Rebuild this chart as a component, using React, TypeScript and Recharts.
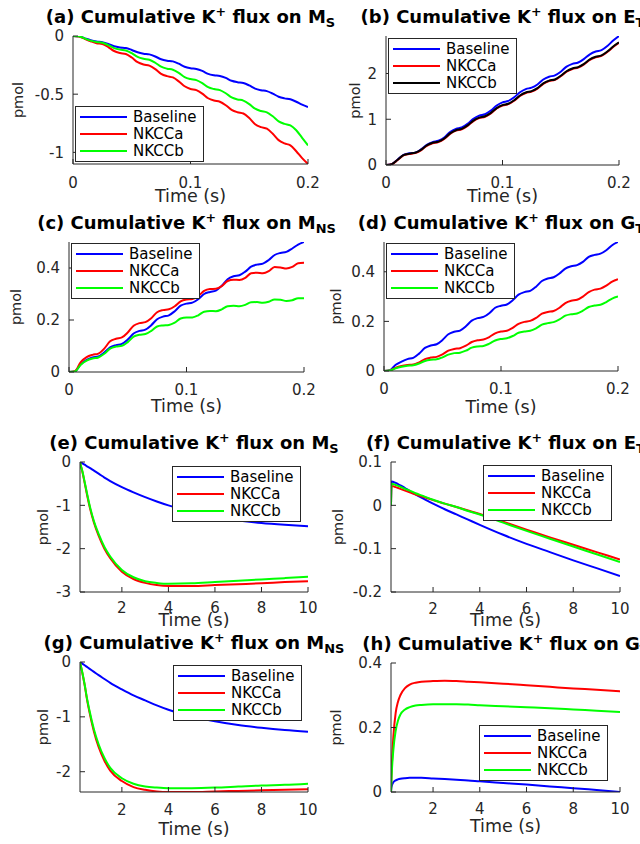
import React from 'react';
import { LineChart, Line, XAxis, YAxis, Legend } from 'recharts';

const FONT = '"DejaVu Sans", "Liberation Sans", sans-serif';
const INK = '#262626';

// time grids
const timeShort = [
  0, 0.005, 0.01, 0.015, 0.02, 0.025, 0.03, 0.035, 0.04, 0.045,
  0.05, 0.055, 0.06, 0.065, 0.07, 0.075, 0.08, 0.085, 0.09, 0.095,
  0.1, 0.105, 0.11, 0.115, 0.12, 0.125, 0.13, 0.135, 0.14, 0.145,
  0.15, 0.155, 0.16, 0.165, 0.17, 0.175, 0.18, 0.185, 0.19, 0.195, 0.2,
];
const timeLong = [0.2, 0.22, 0.3, 0.4, 0.5, 0.6, 0.8, 1, 1.25, 1.5, 2, 2.5, 3, 3.5, 4, 5, 6, 7, 8, 9, 10];

// (a) M_S, short run
const aBaseline = [
  0, -0.003, -0.02, -0.036, -0.047, -0.053, -0.068, -0.088, -0.098, -0.103,
  -0.12, -0.14, -0.152, -0.158, -0.176, -0.2, -0.212, -0.218, -0.238, -0.264,
  -0.277, -0.283, -0.3, -0.325, -0.337, -0.343, -0.36, -0.385, -0.397, -0.404,
  -0.425, -0.452, -0.466, -0.474, -0.495, -0.522, -0.536, -0.544, -0.565, -0.59, -0.61,
];
const aNKCCa = [
  0, -0.004, -0.025, -0.045, -0.062, -0.069, -0.095, -0.129, -0.146, -0.155,
  -0.185, -0.225, -0.245, -0.255, -0.285, -0.325, -0.345, -0.356, -0.39, -0.432,
  -0.455, -0.465, -0.495, -0.535, -0.555, -0.565, -0.595, -0.635, -0.655, -0.666,
  -0.705, -0.758, -0.783, -0.797, -0.84, -0.895, -0.923, -0.94, -0.99, -1.05, -1.1,
];
const aNKCCb = [
  0, -0.003, -0.022, -0.04, -0.052, -0.058, -0.078, -0.104, -0.117, -0.124,
  -0.148, -0.18, -0.196, -0.204, -0.23, -0.264, -0.281, -0.29, -0.317, -0.353,
  -0.37, -0.379, -0.405, -0.44, -0.456, -0.465, -0.492, -0.528, -0.545, -0.555,
  -0.585, -0.625, -0.645, -0.656, -0.69, -0.733, -0.755, -0.768, -0.81, -0.875, -0.94,
];

// (b) E_T, short run
const bBaseline = [
  0, 0.02, 0.12, 0.22, 0.255, 0.27, 0.34, 0.44, 0.5, 0.53,
  0.6, 0.72, 0.79, 0.82, 0.9, 1.01, 1.08, 1.11, 1.19, 1.3,
  1.37, 1.4, 1.48, 1.59, 1.66, 1.69, 1.76, 1.87, 1.93, 1.96,
  2.04, 2.15, 2.21, 2.24, 2.32, 2.42, 2.48, 2.51, 2.6, 2.72, 2.82,
];
const bNKCCa = [
  0, 0.02, 0.11, 0.21, 0.24, 0.26, 0.32, 0.42, 0.475, 0.5,
  0.57, 0.68, 0.75, 0.78, 0.855, 0.96, 1.025, 1.055, 1.13, 1.235,
  1.3, 1.33, 1.405, 1.51, 1.575, 1.605, 1.67, 1.775, 1.835, 1.86,
  1.94, 2.04, 2.1, 2.13, 2.2, 2.3, 2.355, 2.385, 2.47, 2.58, 2.67,
];
const bNKCCb = [
  0, 0.02, 0.115, 0.215, 0.248, 0.268, 0.33, 0.43, 0.485, 0.51,
  0.58, 0.69, 0.76, 0.79, 0.865, 0.97, 1.035, 1.065, 1.14, 1.245,
  1.31, 1.34, 1.415, 1.52, 1.585, 1.615, 1.68, 1.785, 1.845, 1.87,
  1.95, 2.05, 2.11, 2.14, 2.21, 2.31, 2.365, 2.395, 2.48, 2.59, 2.68,
];

// (c) M_NS, short run
const cBaseline = [
  0, 0.002, 0.03, 0.047, 0.056, 0.06, 0.075, 0.095, 0.103, 0.108,
  0.125, 0.148, 0.158, 0.163, 0.18, 0.203, 0.213, 0.218, 0.234, 0.255,
  0.263, 0.267, 0.28, 0.3, 0.308, 0.313, 0.332, 0.357, 0.368, 0.372,
  0.386, 0.405, 0.413, 0.417, 0.431, 0.45, 0.458, 0.462, 0.475, 0.49, 0.5,
];
const cNKCCa = [
  0, 0.003, 0.038, 0.057, 0.066, 0.071, 0.09, 0.118, 0.128, 0.133,
  0.152, 0.178, 0.188, 0.192, 0.207, 0.23, 0.238, 0.241, 0.253, 0.272,
  0.279, 0.281, 0.292, 0.312, 0.319, 0.32, 0.33, 0.35, 0.355, 0.354,
  0.362, 0.38, 0.382, 0.38, 0.388, 0.404, 0.402, 0.398, 0.404, 0.418, 0.42,
];
const cNKCCb = [
  0, 0.002, 0.028, 0.044, 0.052, 0.056, 0.07, 0.09, 0.098, 0.101,
  0.115, 0.136, 0.143, 0.146, 0.158, 0.175, 0.179, 0.181, 0.19, 0.206,
  0.21, 0.21, 0.218, 0.232, 0.235, 0.234, 0.241, 0.253, 0.255, 0.253,
  0.258, 0.268, 0.269, 0.266, 0.27, 0.279, 0.278, 0.273, 0.276, 0.284, 0.284,
];

// (d) G_T, short run
const dBaseline = [
  0, 0.003, 0.025, 0.038, 0.048, 0.053, 0.07, 0.093, 0.103, 0.108,
  0.125, 0.148, 0.158, 0.163, 0.18, 0.203, 0.213, 0.218, 0.233, 0.255,
  0.263, 0.268, 0.285, 0.308, 0.318, 0.323, 0.34, 0.363, 0.373, 0.378,
  0.393, 0.413, 0.422, 0.427, 0.44, 0.46, 0.468, 0.473, 0.487, 0.507, 0.52,
];
const dNKCCa = [
  0, 0.002, 0.013, 0.02, 0.024, 0.026, 0.035, 0.048, 0.054, 0.057,
  0.067, 0.082, 0.089, 0.092, 0.102, 0.117, 0.124, 0.127, 0.137, 0.152,
  0.159, 0.162, 0.174, 0.19, 0.198, 0.202, 0.214, 0.231, 0.238, 0.242,
  0.255, 0.274, 0.283, 0.287, 0.3, 0.318, 0.328, 0.332, 0.344, 0.36, 0.37,
];
const dNKCCb = [
  0, 0.002, 0.011, 0.017, 0.021, 0.023, 0.03, 0.04, 0.045, 0.047,
  0.055, 0.066, 0.072, 0.074, 0.082, 0.094, 0.099, 0.101, 0.11, 0.123,
  0.129, 0.132, 0.141, 0.154, 0.159, 0.162, 0.172, 0.187, 0.193, 0.197,
  0.208, 0.223, 0.229, 0.232, 0.243, 0.258, 0.264, 0.267, 0.278, 0.292, 0.3,
];

// (e)-(h) long run
const eBaseline = [0, -0.005, -0.03, -0.06, -0.1, -0.13, -0.2, -0.27, -0.36, -0.44, -0.58, -0.7, -0.81, -0.91, -1.0, -1.15, -1.27, -1.35, -1.41, -1.45, -1.48];
const eNKCCa = [0, -0.05, -0.22, -0.48, -0.75, -1.0, -1.4, -1.7, -2.0, -2.22, -2.53, -2.7, -2.79, -2.84, -2.86, -2.86, -2.84, -2.82, -2.8, -2.77, -2.75];
const eNKCCb = [0, -0.05, -0.21, -0.46, -0.72, -0.97, -1.37, -1.66, -1.96, -2.18, -2.49, -2.66, -2.75, -2.79, -2.81, -2.8, -2.77, -2.74, -2.71, -2.68, -2.65];

const fBaseline = [0, 0.055, 0.054, 0.052, 0.049, 0.046, 0.04, 0.033, 0.025, 0.018, 0.004, -0.009, -0.021, -0.033, -0.045, -0.068, -0.089, -0.108, -0.127, -0.145, -0.163];
const fNKCCa = [0, 0.044, 0.044, 0.042, 0.04, 0.038, 0.034, 0.03, 0.025, 0.021, 0.012, 0.004, -0.004, -0.012, -0.02, -0.038, -0.056, -0.074, -0.091, -0.108, -0.125];
const fNKCCb = [0, 0.05, 0.049, 0.047, 0.045, 0.043, 0.038, 0.034, 0.028, 0.023, 0.013, 0.004, -0.004, -0.013, -0.021, -0.04, -0.059, -0.077, -0.095, -0.113, -0.131];

const gBaseline = [0, -0.005, -0.03, -0.06, -0.09, -0.12, -0.18, -0.24, -0.31, -0.38, -0.5, -0.61, -0.7, -0.79, -0.87, -0.99, -1.08, -1.15, -1.2, -1.24, -1.27];
const gNKCCa = [0, -0.04, -0.2, -0.42, -0.68, -0.9, -1.27, -1.55, -1.8, -1.98, -2.17, -2.28, -2.33, -2.36, -2.37, -2.37, -2.36, -2.35, -2.34, -2.33, -2.32];
const gNKCCb = [0, -0.04, -0.19, -0.41, -0.66, -0.87, -1.23, -1.5, -1.75, -1.93, -2.12, -2.22, -2.27, -2.29, -2.3, -2.3, -2.29, -2.27, -2.25, -2.24, -2.22];

const hBaseline = [0, 0.015, 0.03, 0.036, 0.039, 0.041, 0.043, 0.044, 0.044, 0.044, 0.042, 0.04, 0.038, 0.036, 0.033, 0.028, 0.023, 0.017, 0.012, 0.006, 0];
const hNKCCa = [0, 0.05, 0.17, 0.245, 0.28, 0.3, 0.322, 0.333, 0.339, 0.342, 0.344, 0.345, 0.344, 0.342, 0.34, 0.336, 0.331, 0.326, 0.321, 0.317, 0.312];
const hNKCCb = [0, 0.04, 0.13, 0.19, 0.222, 0.24, 0.256, 0.263, 0.268, 0.27, 0.272, 0.272, 0.272, 0.271, 0.269, 0.266, 0.263, 0.26, 0.256, 0.252, 0.248];

const BLUE = '#0000ff';
const RED = '#ff0000';
const GREEN = '#00ff00';
const BLACK = '#000000';

interface Series { name: string; color: string; values: number[] }
interface PanelDef {
  letter: string;
  main: string;
  sub: string;
  time: number[];
  series: Series[];
  xDomain: [number, number];
  xTicks: number[];
  yDomain: [number, number];
  yTicks: number[];
  box: { l: number; t: number; r: number; b: number };
  legend: { l: number; t: number };
  tickDy: number;
  xLabelDy: number;
  yLabelDx: number;
}

const trio = (b: number[], a: number[], c: number[], cColor = GREEN): Series[] => [
  { name: 'Baseline', color: BLUE, values: b },
  { name: 'NKCCa', color: RED, values: a },
  { name: 'NKCCb', color: cColor, values: c },
];

const shortX = { xDomain: [0, 0.2] as [number, number], xTicks: [0, 0.1, 0.2] };
const longX = { xDomain: [0.2, 10] as [number, number], xTicks: [2, 4, 6, 8, 10] };

const panels: PanelDef[] = [
  { letter: 'a', main: 'M', sub: 'S', time: timeShort, series: trio(aBaseline, aNKCCa, aNKCCb), ...shortX,
    yDomain: [-1.1, 0], yTicks: [-1, -0.5, 0], box: { l: 73, t: 36, r: 308, b: 164 }, legend: { l: 75, t: 106 },
    tickDy: 24, xLabelDy: 37.7, yLabelDx: 55 },
  { letter: 'b', main: 'E', sub: 'T', time: timeShort, series: trio(bBaseline, bNKCCa, bNKCCb, BLACK), ...shortX,
    yDomain: [0, 2.82], yTicks: [0, 1, 2], box: { l: 386, t: 36, r: 619, b: 165 }, legend: { l: 388, t: 38 },
    tickDy: 22.5, xLabelDy: 36.7, yLabelDx: 31 },
  { letter: 'c', main: 'M', sub: 'NS', time: timeShort, series: trio(cBaseline, cNKCCa, cNKCCb), ...shortX,
    yDomain: [0, 0.5], yTicks: [0, 0.2, 0.4], box: { l: 69, t: 242, r: 304, b: 372 }, legend: { l: 71, t: 243 },
    tickDy: 22.6, xLabelDy: 40, yLabelDx: 53.5 },
  { letter: 'd', main: 'G', sub: 'T', time: timeShort, series: trio(dBaseline, dNKCCa, dNKCCb), ...shortX,
    yDomain: [0, 0.52], yTicks: [0, 0.2, 0.4], box: { l: 384, t: 242, r: 618, b: 371 }, legend: { l: 386, t: 243 },
    tickDy: 23.3, xLabelDy: 41.7, yLabelDx: 48.5 },
  { letter: 'e', main: 'M', sub: 'S', time: timeLong, series: trio(eBaseline, eNKCCa, eNKCCb), ...longX,
    yDomain: [-3, 0], yTicks: [-3, -2, -1, 0], box: { l: 80, t: 462, r: 308, b: 592 }, legend: { l: 172, t: 466 },
    tickDy: 21, xLabelDy: 33.7, yLabelDx: 37.5 },
  { letter: 'f', main: 'E', sub: 'T', time: timeLong, series: trio(fBaseline, fNKCCa, fNKCCb), ...longX,
    yDomain: [-0.2, 0.1], yTicks: [-0.2, -0.1, 0, 0.1], box: { l: 391, t: 462, r: 620, b: 592 }, legend: { l: 483, t: 465 },
    tickDy: 21.6, xLabelDy: 34.3, yLabelDx: 53.5 },
  { letter: 'g', main: 'M', sub: 'NS', time: timeLong, series: trio(gBaseline, gNKCCa, gNKCCb), ...longX,
    yDomain: [-2.37, 0], yTicks: [-2, -1, 0], box: { l: 80, t: 662, r: 308, b: 792 }, legend: { l: 173, t: 665 },
    tickDy: 22.6, xLabelDy: 42.6, yLabelDx: 37.5 },
  { letter: 'h', main: 'G', sub: 'T', time: timeLong, series: trio(hBaseline, hNKCCa, hNKCCb), ...longX,
    yDomain: [0, 0.4], yTicks: [0, 0.2, 0.4], box: { l: 391, t: 663, r: 620, b: 792 }, legend: { l: 479, t: 725 },
    tickDy: 22, xLabelDy: 40.4, yLabelDx: 55.5 },
];

// space around the plot box inside each chart
const YW = 66;
const MT = 10;
const MR = 22;
const XH = 50;

const LegendBox = ({ series }: { series: Series[] }) => (
  <div
    style={{
      boxSizing: 'border-box',
      width: 129,
      height: 56,
      border: `1px solid ${INK}`,
      background: '#ffffff',
      paddingTop: 2,
    }}
  >
    {series.map((s) => (
      <div key={s.name} style={{ display: 'flex', alignItems: 'center', height: 16.7 }}>
        <div style={{ marginLeft: 4, width: 47, height: 2, background: s.color }} />
        <span style={{ marginLeft: 6, fontFamily: FONT, fontSize: 15, lineHeight: '16px', color: '#000' }}>
          {s.name}
        </span>
      </div>
    ))}
  </div>
);

const Title = ({ p }: { p: PanelDef }) => {
  const cx = (p.box.l + p.box.r) / 2;
  return (
    <div
      style={{
        position: 'absolute',
        left: cx - 250,
        top: p.box.t - 28.2,
        width: 500,
        textAlign: 'center',
        whiteSpace: 'nowrap',
        fontFamily: FONT,
        fontWeight: 700,
        fontSize: 18,
        lineHeight: '18px',
        color: '#000',
      }}
    >
      ({p.letter}) Cumulative K
      <span style={{ fontSize: '0.7em', position: 'relative', top: '-0.55em' }}>+</span> flux on {p.main}
      <span style={{ fontSize: '0.72em', position: 'relative', top: '0.35em' }}>{p.sub}</span>
    </div>
  );
};

const Panel = ({ p }: { p: PanelDef }) => {
  const w = p.box.r - p.box.l;
  const h = p.box.b - p.box.t;
  const chartLeft = p.box.l - YW;
  const chartTop = p.box.t - MT;
  const data = p.time.map((t, i) => {
    const row: Record<string, number> = { t };
    p.series.forEach((s) => {
      row[s.name] = s.values[i];
    });
    return row;
  });
  const tickStyle = { fill: INK, fontSize: 15, fontFamily: FONT };
  const ylx = YW - p.yLabelDx;
  const yly = MT + h / 2;

  return (
    <>
      <div style={{ position: 'absolute', left: chartLeft, top: chartTop }}>
        <LineChart
          width={YW + w + MR}
          height={MT + h + XH}
          data={data}
          margin={{ top: MT, right: MR, bottom: 0, left: 0 }}
        >
          <XAxis
            dataKey="t"
            type="number"
            domain={p.xDomain}
            ticks={p.xTicks}
            interval={0}
            allowDataOverflow
            height={XH}
            stroke={INK}
            tickSize={-5}
            tickMargin={p.tickDy + 5 - 10.65}
            tick={tickStyle}
            label={() => (
              <text x={YW + w / 2} y={MT + h + p.xLabelDy} textAnchor="middle" fontFamily={FONT} fontSize={17.5} fill={INK}>
                Time (s)
              </text>
            )}
          />
          <XAxis
            xAxisId="top"
            orientation="top"
            dataKey="t"
            type="number"
            domain={p.xDomain}
            ticks={p.xTicks}
            interval={0}
            allowDataOverflow
            height={0}
            stroke={INK}
            tickSize={-5}
            tick={false}
          />
          <YAxis
            type="number"
            domain={p.yDomain}
            ticks={p.yTicks}
            interval={0}
            allowDataOverflow
            width={YW}
            stroke={INK}
            tickSize={-5}
            tickMargin={14}
            tick={tickStyle}
            label={() => (
              <text
                x={ylx}
                y={yly}
                dy="0.35em"
                transform={`rotate(-90, ${ylx}, ${yly})`}
                textAnchor="middle"
                fontFamily={FONT}
                fontSize={14.5}
                fill={INK}
              >
                pmol
              </text>
            )}
          />
          <YAxis
            yAxisId="right"
            orientation="right"
            type="number"
            domain={p.yDomain}
            ticks={p.yTicks}
            interval={0}
            allowDataOverflow
            width={0}
            stroke={INK}
            tickSize={-5}
            tick={false}
          />
          {p.series.map((s) => (
            <Line
              key={s.name}
              dataKey={s.name}
              name={s.name}
              type="monotone"
              stroke={s.color}
              strokeWidth={2}
              dot={false}
              activeDot={false}
              isAnimationActive={false}
            />
          ))}
          <Legend
            layout="vertical"
            align="center"
            verticalAlign="middle"
            wrapperStyle={{ left: p.legend.l - chartLeft, top: p.legend.t - chartTop, width: 129, height: 56 }}
            content={() => <LegendBox series={p.series} />}
          />
        </LineChart>
      </div>
      <Title p={p} />
    </>
  );
};

export default function App() {
  return (
    <div
      style={{
        position: 'absolute',
        left: 0,
        top: 0,
        width: 640,
        height: 844,
        overflow: 'hidden',
        background: '#ffffff',
      }}
    >
      {panels.map((p) => (
        <Panel key={p.letter} p={p} />
      ))}
    </div>
  );
}
